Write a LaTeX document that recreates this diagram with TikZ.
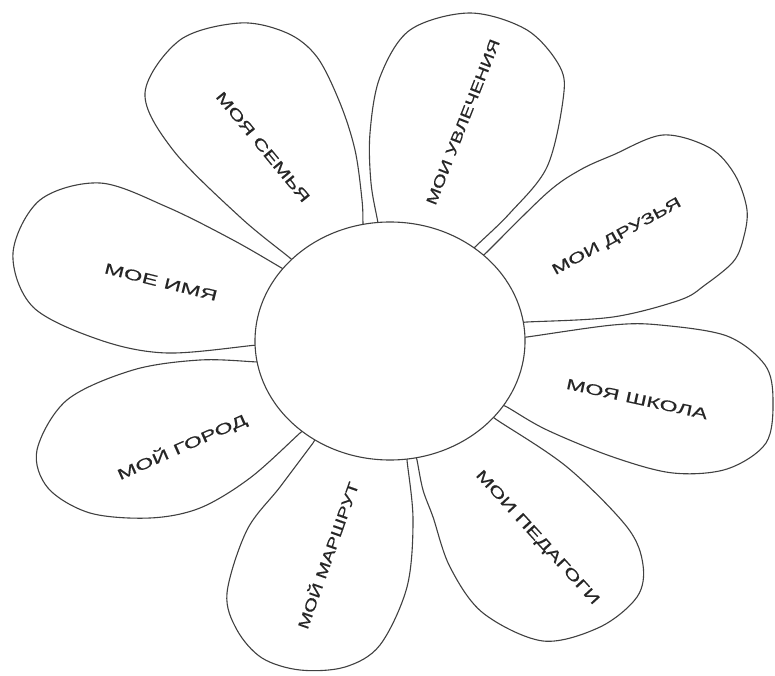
\documentclass[tikz,border=0pt]{standalone}
\usepackage{fontspec}
\setmainfont{Liberation Sans}
\usetikzlibrary{shapes.geometric}
\tikzset{
  petal/.style={draw=black!75, line width=1.1pt, fill=white, line join=round},
  heart/.style={ellipse, draw=black!75, line width=1.1pt, fill=white, inner sep=0pt,
                minimum width=270pt, minimum height=238pt},
  lbl/.style={inner sep=0pt, text=black!85, font=\fontsize{15}{18}\selectfont}
}
\newcommand\wide[2]{\addfontfeatures{FakeStretch=#1, FakeBold=0.4}#2}
\begin{document}
\begin{tikzpicture}[x=1pt,y=1pt]
\useasboundingbox (0,0) rectangle (775,675);
\begin{scope}[shift={(0,675)}, yscale=-1]
% petal 1
\draw[petal] plot[smooth cycle, tension=0.55] coordinates {(309,274) (290,258) (240,217) (173,150) (145,93) (180,40) (240,23) (287,33) (317,57) (340,103) (355,150) (362,200) (363,224) (364,249)};
% petal 2
\draw[petal] plot[smooth cycle, tension=0.55] coordinates {(382,248) (378,223) (371,183) (370,133) (380,77) (410,30) (470,13) (527,30) (560,67) (563,100) (547,167) (510,213) (475,247) (457,265)};
% petal 3
\draw[petal] plot[smooth cycle, tension=0.55] coordinates {(469,270) (487,252) (547,193) (580,170) (613,155) (663,135) (710,148) (735,175) (747,210) (743,240) (733,262) (705,285) (680,300) (613,317) (527,322) (502,323)};
% petal 4
\draw[petal] plot[smooth cycle, tension=0.55] coordinates {(502,340) (527,337) (613,325) (660,325) (727,336) (765,365) (773,400) (766,443) (727,469) (673,473) (613,457) (547,430) (507,407) (485,395)};
% petal 5
\draw[petal] plot[smooth cycle, tension=0.55] coordinates {(412,435) (417,460) (423,490) (433,517) (450,567) (483,613) (543,641) (600,627) (637,597) (643,565) (627,527) (567,467) (497,420) (476,406)};
% petal 6
\draw[petal] plot[smooth cycle, tension=0.55] coordinates {(328,423) (313,443) (280,487) (247,530) (227,593) (237,630) (262,658) (300,670) (345,667) (380,645) (407,587) (413,520) (407,460) (405,435)};
% petal 7
\draw[petal] plot[smooth cycle, tension=0.55] coordinates {(318,416) (300,433) (250,478) (200,508) (150,518) (90,513) (48,488) (37,450) (67,400) (133,370) (200,360) (258,362) (283,363)};
% petal 8
\draw[petal] plot[smooth cycle, tension=0.55] coordinates {(307,283) (285,270) (233,240) (167,207) (100,183) (40,200) (13,253) (33,307) (100,340) (167,353) (257,345) (282,343)};
% centre
\node[heart] (centre) at (390,341) {};
% labels
\node[lbl, rotate=-50.5] (t1) at (263,147) {\wide{1.50}{МОЯ СЕМЬЯ}};
\node[lbl, rotate=68.5]  (t2) at (463,122) {\wide{1.35}{МОИ УВЛЕЧЕНИЯ}};
\node[lbl, rotate=28.8]  (t3) at (617,237) {\wide{1.49}{МОИ ДРУЗЬЯ}};
\node[lbl, rotate=-12.3] (t4) at (637,399) {\wide{1.56}{МОЯ ШКОЛА}};
\node[lbl, rotate=-47.7] (t5) at (537,538) {\wide{1.49}{МОИ ПЕДАГОГИ}};
\node[lbl, rotate=70.5]  (t6) at (327,555) {\wide{1.36}{МОЙ МАРШРУТ}};
\node[lbl, rotate=24]    (t7) at (182,447) {\wide{1.57}{МОЙ ГОРОД}};
\node[lbl, rotate=-14]   (t8) at (161,282) {\wide{1.60}{МОЕ ИМЯ}};
\end{scope}
\end{tikzpicture}
\end{document}
